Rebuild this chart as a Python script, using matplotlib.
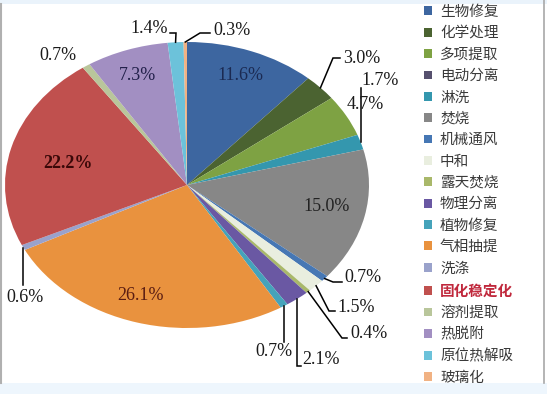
import numpy as np
import matplotlib
matplotlib.use("Agg")
import matplotlib.pyplot as plt
from matplotlib.patches import Rectangle

# ---- data ----
categories = ["生物修复", "化学处理", "多项提取", "电动分离", "淋洗", "焚烧", "机械通风", "中和",
              "露天焚烧", "物理分离", "植物修复", "气相抽提", "洗涤", "固化稳定化", "溶剂提取",
              "热脱附", "原位热解吸", "玻璃化"]
values = [11.6, 3.0, 4.7, 0.0, 1.7, 15.0, 0.7, 1.5, 0.4, 2.1, 0.7, 26.1, 0.6, 22.2, 0.7, 7.3, 1.4, 0.3]
colors = ["#3d66a0", "#4b6331", "#7ea243", "#56506e", "#3497ae", "#878787", "#4677b4", "#e9eedf",
          "#a9b86a", "#6a58a3", "#45a3ba", "#e9923e", "#9aa2cb", "#c0504e", "#b9c69b",
          "#a28fc2", "#6cc2da", "#f1b283"]
pct_labels = [f"{v:.1f}%" for v in values]

W, H = 547, 394
fig = plt.figure(figsize=(W / 100, H / 100), dpi=100)
fig.patch.set_facecolor("white")

# ellipse geometry in pixels
cx, cy, rx, ry = 187, 185, 182, 143

# overlay axes in pixel coordinates
ov = fig.add_axes([0, 0, 1, 1], zorder=3)
ov.set_xlim(0, W)
ov.set_ylim(H, 0)
ov.axis("off")
ov.patch.set_alpha(0)

# background decorations
bg = fig.add_axes([0, 0, 1, 1], zorder=0)
bg.set_xlim(0, W); bg.set_ylim(H, 0); bg.axis("off")
bg.add_patch(Rectangle((0, 0), W, 4, color="#eaf3fb", lw=0))
bg.add_patch(Rectangle((0, 383), W, 11, color="#eef6fd", lw=0))
bg.plot([0.8, 0.8], [4, 383], color="#b0b0b0", lw=1.5)
bg.plot([543.5, 543.5], [0, 383], color="#a8a8a8", lw=1.2)

# pie axes
pax = fig.add_axes([(cx - rx) / W, (H - cy - ry) / H, 2 * rx / W, 2 * ry / H], zorder=1)
wedges, _ = pax.pie(values, colors=colors, startangle=90, counterclock=False,
                    radius=1.0, wedgeprops=dict(linewidth=0))
pax.set_aspect("auto")
pax.set_xlim(-1, 1); pax.set_ylim(-1, 1)
pax.axis("off")

cum = np.cumsum([0] + values[:-1])
mids = [90 - 3.6 * (c + v / 2) for c, v in zip(cum, values)]

def wpt(i, r=1.0):
    a = np.deg2rad(mids[i])
    return cx + rx * r * np.cos(a), cy - ry * r * np.sin(a)

serif = "Liberation Serif"
fs = 13

# inside labels: index -> (x, y, color, weight)
inside = {0: (240, 75, "#1b2a52", "normal"), 15: (137, 75, "#22204a", "normal"),
          13: (68, 163, "#3a0808", "bold"), 5: (327, 206, "#222222", "normal"),
          11: (140, 296, "#5a1c12", "normal")}
for i, (x, y, c, w) in inside.items():
    ov.text(x, y, pct_labels[i], ha="center", va="center", fontsize=fs, family=serif,
            color=c, weight=w)

# outside labels: index -> (text x, text y, ha, elbow points)
outside = {
    1: (343, 58, "left", [(333, 58)], 1.0, (340, 58)),
    2: (347, 104, "left", None, 1.0, None),
    4: (361, 80, "left", [], 1.0, (361, 88)),
    6: (344, 278, "left", [(333, 282)], 1.0, (342, 282)),
    7: (337, 307, "left", [(329, 311)], 1.0, (335, 311)),
    8: (350, 333, "left", [(342, 338)], 1.0, (347, 338)),
    9: (302, 360, "left", [], 1.0, None),
    10: (292, 352, "right", [], 1.0, None),
    12: (6, 298, "left", [], 1.0, None),
    14: (58, 55, "center", None, 1.0, None),
    16: (168, 28, "right", [(176, 33)], 1.0, (170, 33)),
    17: (213, 30, "left", [(200, 33)], 1.0, (210, 33)),
}
for i, (x, y, ha, elbows, r, end) in outside.items():
    ov.text(x, y, pct_labels[i], ha=ha, va="center", fontsize=fs, family=serif, color="#1a1a1a")
    if elbows is None:
        continue
    sx, sy = wpt(i, r)
    if i == 4:
        pts = [(sx, sy), (sx, 88)]
    elif i == 9:
        pts = [(sx, sy), (sx, 366), (sx + 4, 366)]
    elif i == 10:
        pts = [(sx, sy), (sx, 342)]
    elif i == 12:
        pts = [(sx, sy), (sx, 285)]
    else:
        pts = [(sx, sy)] + elbows + [end]
    xs, ys = zip(*pts)
    ov.plot(xs, ys, color="black", lw=1.1, solid_joinstyle="miter")

# legend
leg = ov.legend(wedges, categories, loc="upper left", bbox_to_anchor=(424 / W, 1 - 5 / H),
                frameon=False, prop={"family": ["Noto Sans CJK SC", "DejaVu Sans"], "size": 10.5},
                handlelength=0.55, handleheight=0.55, handletextpad=0.55, labelspacing=0.505,
                borderaxespad=0, borderpad=0)
for t in leg.get_texts():
    t.set_color("#3a3a3a")
    if t.get_text() == "固化稳定化":
        t.set_color("#c0283c")
        t.set_fontweight("bold")

fig.savefig("out.png", dpi=100, facecolor="white")
